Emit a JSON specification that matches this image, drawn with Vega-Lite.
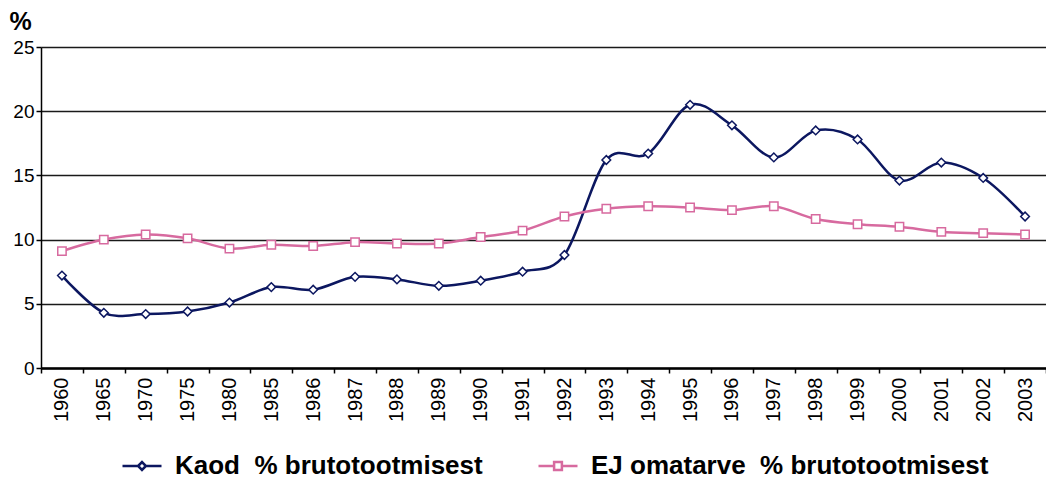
{
  "$schema": "https://vega.github.io/schema/vega-lite/v6.json",
  "width": 1005,
  "height": 321,
  "autosize": {"type": "none"},
  "padding": {"left": 41, "top": 47, "right": 0, "bottom": 113},
  "background": "white",
  "config": {
    "view": {"stroke": null},
    "font": "Liberation Sans"
  },
  "data": {
    "values": [
      {"year": "1960", "series": "Kaod\u00a0 % brutotootmisest", "value": 7.2},
      {"year": "1965", "series": "Kaod\u00a0 % brutotootmisest", "value": 4.3},
      {"year": "1970", "series": "Kaod\u00a0 % brutotootmisest", "value": 4.2},
      {"year": "1975", "series": "Kaod\u00a0 % brutotootmisest", "value": 4.4},
      {"year": "1980", "series": "Kaod\u00a0 % brutotootmisest", "value": 5.1},
      {"year": "1985", "series": "Kaod\u00a0 % brutotootmisest", "value": 6.3},
      {"year": "1986", "series": "Kaod\u00a0 % brutotootmisest", "value": 6.1},
      {"year": "1987", "series": "Kaod\u00a0 % brutotootmisest", "value": 7.1},
      {"year": "1988", "series": "Kaod\u00a0 % brutotootmisest", "value": 6.9},
      {"year": "1989", "series": "Kaod\u00a0 % brutotootmisest", "value": 6.4},
      {"year": "1990", "series": "Kaod\u00a0 % brutotootmisest", "value": 6.8},
      {"year": "1991", "series": "Kaod\u00a0 % brutotootmisest", "value": 7.5},
      {"year": "1992", "series": "Kaod\u00a0 % brutotootmisest", "value": 8.8},
      {"year": "1993", "series": "Kaod\u00a0 % brutotootmisest", "value": 16.2},
      {"year": "1994", "series": "Kaod\u00a0 % brutotootmisest", "value": 16.7},
      {"year": "1995", "series": "Kaod\u00a0 % brutotootmisest", "value": 20.5},
      {"year": "1996", "series": "Kaod\u00a0 % brutotootmisest", "value": 18.9},
      {"year": "1997", "series": "Kaod\u00a0 % brutotootmisest", "value": 16.4},
      {"year": "1998", "series": "Kaod\u00a0 % brutotootmisest", "value": 18.5},
      {"year": "1999", "series": "Kaod\u00a0 % brutotootmisest", "value": 17.8},
      {"year": "2000", "series": "Kaod\u00a0 % brutotootmisest", "value": 14.6},
      {"year": "2001", "series": "Kaod\u00a0 % brutotootmisest", "value": 16.0},
      {"year": "2002", "series": "Kaod\u00a0 % brutotootmisest", "value": 14.8},
      {"year": "2003", "series": "Kaod\u00a0 % brutotootmisest", "value": 11.8},
      {"year": "1960", "series": "EJ omatarve\u00a0 % brutotootmisest", "value": 9.1},
      {"year": "1965", "series": "EJ omatarve\u00a0 % brutotootmisest", "value": 10.0},
      {"year": "1970", "series": "EJ omatarve\u00a0 % brutotootmisest", "value": 10.4},
      {"year": "1975", "series": "EJ omatarve\u00a0 % brutotootmisest", "value": 10.1},
      {"year": "1980", "series": "EJ omatarve\u00a0 % brutotootmisest", "value": 9.3},
      {"year": "1985", "series": "EJ omatarve\u00a0 % brutotootmisest", "value": 9.6},
      {"year": "1986", "series": "EJ omatarve\u00a0 % brutotootmisest", "value": 9.5},
      {"year": "1987", "series": "EJ omatarve\u00a0 % brutotootmisest", "value": 9.8},
      {"year": "1988", "series": "EJ omatarve\u00a0 % brutotootmisest", "value": 9.7},
      {"year": "1989", "series": "EJ omatarve\u00a0 % brutotootmisest", "value": 9.7},
      {"year": "1990", "series": "EJ omatarve\u00a0 % brutotootmisest", "value": 10.2},
      {"year": "1991", "series": "EJ omatarve\u00a0 % brutotootmisest", "value": 10.7},
      {"year": "1992", "series": "EJ omatarve\u00a0 % brutotootmisest", "value": 11.8},
      {"year": "1993", "series": "EJ omatarve\u00a0 % brutotootmisest", "value": 12.4},
      {"year": "1994", "series": "EJ omatarve\u00a0 % brutotootmisest", "value": 12.6},
      {"year": "1995", "series": "EJ omatarve\u00a0 % brutotootmisest", "value": 12.5},
      {"year": "1996", "series": "EJ omatarve\u00a0 % brutotootmisest", "value": 12.3},
      {"year": "1997", "series": "EJ omatarve\u00a0 % brutotootmisest", "value": 12.6},
      {"year": "1998", "series": "EJ omatarve\u00a0 % brutotootmisest", "value": 11.6},
      {"year": "1999", "series": "EJ omatarve\u00a0 % brutotootmisest", "value": 11.2},
      {"year": "2000", "series": "EJ omatarve\u00a0 % brutotootmisest", "value": 11.0},
      {"year": "2001", "series": "EJ omatarve\u00a0 % brutotootmisest", "value": 10.6},
      {"year": "2002", "series": "EJ omatarve\u00a0 % brutotootmisest", "value": 10.5},
      {"year": "2003", "series": "EJ omatarve\u00a0 % brutotootmisest", "value": 10.4}
    ]
  },
  "encoding": {
    "x": {
      "field": "year",
      "type": "ordinal",
      "bandPosition": 0.5,
      "scale": {"type": "band", "paddingInner": 0, "paddingOuter": 0},
      "axis": {
        "title": null,
        "labelAngle": -90,
        "labelAlign": "right",
        "labelBaseline": "middle",
        "labelFontSize": 20,
        "labelColor": "black",
        "labelPadding": 4,
        "tickBand": "extent",
        "tickSize": 5,
        "tickColor": "black",
        "tickWidth": 1.5,
        "domainColor": "black",
        "domainWidth": 2.5,
        "grid": false
      }
    },
    "y": {
      "field": "value",
      "type": "quantitative",
      "scale": {"domain": [0, 25], "nice": false},
      "axis": {
        "title": "%",
        "titleAngle": 0,
        "titleAlign": "left",
        "titleBaseline": "top",
        "titleX": -32,
        "titleY": -38,
        "titleFontSize": 25,
        "titleFontWeight": "bold",
        "titleColor": "black",
        "values": [0, 5, 10, 15, 20, 25],
        "labelFontSize": 19,
        "labelColor": "black",
        "labelPadding": 2,
        "tickSize": 5,
        "tickColor": "black",
        "tickWidth": 1.5,
        "domainColor": "black",
        "domainWidth": 1.5,
        "grid": true,
        "gridColor": "#1a1a1a",
        "gridWidth": 1.5
      }
    },
    "color": {
      "field": "series",
      "type": "nominal",
      "sort": ["Kaod\u00a0 % brutotootmisest", "EJ omatarve\u00a0 % brutotootmisest"],
      "scale": {
        "domain": ["Kaod\u00a0 % brutotootmisest", "EJ omatarve\u00a0 % brutotootmisest"],
        "range": ["#0c1760", "#d76a9f"]
      },
      "legend": {
        "title": null,
        "orient": "none",
        "legendX": 80,
        "legendY": 398,
        "direction": "horizontal",
        "columnPadding": 50,
        "symbolSize": 1521,
        "symbolStrokeWidth": 2.5,
        "labelFontSize": 26,
        "labelFontWeight": "bold",
        "labelColor": "black",
        "labelLimit": 600,
        "labelOffset": 12,
        "encode": {
          "symbols": {
            "update": {
              "shape": {"signal": "indexof(datum.value, 'Kaod') == 0 ? 'M-1,0L-0.2,0M0.2,0L1,0M-0.2,0L0,-0.2L0.2,0L0,0.2Z' : 'M-1,0L-0.2,0M0.2,0L1,0M-0.2,-0.2L0.2,-0.2L0.2,0.2L-0.2,0.2Z'"},
              "fill": {"value": "white"},
              "strokeWidth": {"value": 2.5}
            }
          }
        }
      }
    }
  },
  "layer": [
    {
      "mark": {"type": "line", "interpolate": "cardinal", "strokeWidth": 2.5}
    },
    {
      "transform": [{"filter": "indexof(datum.series, 'Kaod') == 0"}],
      "mark": {"type": "point", "shape": "diamond", "filled": false, "fill": "white", "fillOpacity": 1, "opacity": 1, "strokeWidth": 1.5, "size": 75}
    },
    {
      "transform": [{"filter": "indexof(datum.series, 'EJ') == 0"}],
      "mark": {"type": "point", "shape": "square", "filled": false, "fill": "white", "fillOpacity": 1, "opacity": 1, "strokeWidth": 1.5, "size": 70}
    }
  ]
}
